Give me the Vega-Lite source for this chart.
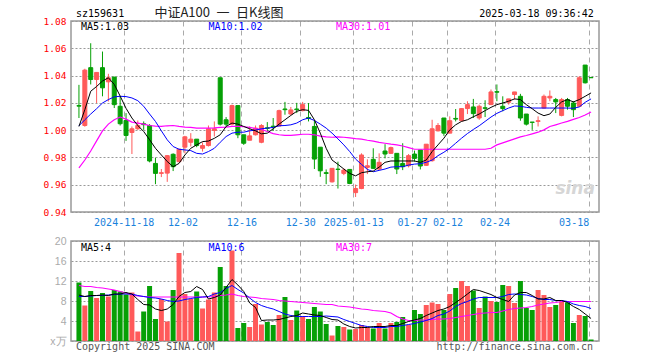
{
  "$schema": "https://vega.github.io/schema/vega-lite/v6.json",
  "background": "white",
  "padding": {"left": 40, "top": 6, "right": 10, "bottom": 6},
  "spacing": 29,
  "bounds": "flush",
  "config": {
    "view": {"stroke": "#999999", "strokeWidth": 1.5},
    "axis": {"labelFont": "DejaVu Sans Mono", "domain": false, "ticks": false, "labelOverlap": false}
  },
  "datasets": {
    "k": [
      {"i":0,"d":"2024-11-06","o":1.0180,"h":1.0332,"l":1.0089,"c":1.0176,"v":11.7,"m5":1.0027,"m10":1.0032,"m30":0.9724,"v5":9.2,"v10":8.9,"v30":11.1},
      {"i":1,"d":"2024-11-07","o":1.0034,"h":1.0450,"l":1.0025,"c":1.0440,"v":7.1,"m5":1.0150,"m10":1.0076,"m30":0.9781,"v5":8.9,"v10":8.9,"v30":10.9},
      {"i":2,"d":"2024-11-08","o":1.0458,"h":1.0637,"l":1.0335,"c":1.0371,"v":10.0,"m5":1.0285,"m10":1.0118,"m30":0.9847,"v5":9.1,"v10":9.0,"v30":10.9},
      {"i":3,"d":"2024-11-11","o":1.0371,"h":1.0423,"l":1.0199,"c":1.0423,"v":8.6,"m5":1.0320,"m10":1.0157,"m30":0.9921,"v5":9.1,"v10":9.1,"v30":10.7},
      {"i":4,"d":"2024-11-12","o":1.0458,"h":1.0576,"l":1.0248,"c":1.0310,"v":9.6,"m5":1.0360,"m10":1.0199,"m30":0.9995,"v5":9.2,"v10":9.1,"v30":10.6},
      {"i":5,"d":"2024-11-13","o":1.0354,"h":1.0413,"l":1.0210,"c":1.0384,"v":8.9,"m5":1.0384,"m10":1.0224,"m30":1.0044,"v5":9.1,"v10":9.2,"v30":10.4},
      {"i":6,"d":"2024-11-14","o":1.0389,"h":1.0389,"l":1.0162,"c":1.0187,"v":10.2,"m5":1.0335,"m10":1.0244,"m30":1.0076,"v5":9.4,"v10":9.3,"v30":10.2},
      {"i":7,"d":"2024-11-15","o":1.0175,"h":1.0248,"l":1.0034,"c":1.0047,"v":9.9,"m5":1.0250,"m10":1.0248,"m30":1.0096,"v5":9.4,"v10":9.4,"v30":9.9},
      {"i":8,"d":"2024-11-18","o":1.0071,"h":1.0125,"l":0.9921,"c":0.9961,"v":9.3,"m5":1.0160,"m10":1.0246,"m30":1.0081,"v5":9.7,"v10":9.4,"v30":9.6},
      {"i":9,"d":"2024-11-19","o":0.9983,"h":1.0027,"l":0.9825,"c":1.0010,"v":9.7,"m5":1.0089,"m10":1.0236,"m30":1.0059,"v5":9.4,"v10":9.4,"v30":9.2},
      {"i":10,"d":"2024-11-20","o":1.0010,"h":1.0071,"l":1.0002,"c":1.0034,"v":1.9,"m5":1.0034,"m10":1.0216,"m30":1.0052,"v5":8.3,"v10":9.1,"v30":9.0},
      {"i":11,"d":"2024-11-21","o":1.0047,"h":1.0064,"l":1.0002,"c":1.0040,"v":5.9,"m5":0.9990,"m10":1.0175,"m30":1.0044,"v5":7.3,"v10":8.9,"v30":8.9},
      {"i":12,"d":"2024-11-22","o":1.0034,"h":1.0044,"l":0.9764,"c":0.9774,"v":11.0,"m5":0.9930,"m10":1.0118,"m30":1.0034,"v5":7.2,"v10":8.7,"v30":8.8},
      {"i":13,"d":"2024-11-25","o":0.9756,"h":0.9798,"l":0.9604,"c":0.9683,"v":4.4,"m5":0.9867,"m10":1.0064,"m30":1.0030,"v5":6.4,"v10":8.6,"v30":8.8},
      {"i":14,"d":"2024-11-26","o":0.9683,"h":0.9715,"l":0.9656,"c":0.9688,"v":8.4,"m5":0.9818,"m10":0.9995,"m30":1.0027,"v5":6.1,"v10":8.4,"v30":8.8},
      {"i":15,"d":"2024-11-27","o":0.9685,"h":0.9818,"l":0.9621,"c":0.9813,"v":3.9,"m5":0.9770,"m10":0.9929,"m30":1.0032,"v5":6.4,"v10":8.1,"v30":8.8},
      {"i":16,"d":"2024-11-28","o":0.9823,"h":0.9830,"l":0.9700,"c":0.9732,"v":10.2,"m5":0.9732,"m10":0.9880,"m30":1.0034,"v5":7.3,"v10":7.9,"v30":8.8},
      {"i":17,"d":"2024-11-29","o":0.9769,"h":0.9860,"l":0.9764,"c":0.9860,"v":17.6,"m5":0.9756,"m10":0.9860,"m30":1.0027,"v5":8.9,"v10":8.0,"v30":8.8},
      {"i":18,"d":"2024-12-02","o":0.9875,"h":0.9958,"l":0.9830,"c":0.9951,"v":9.4,"m5":0.9818,"m10":0.9855,"m30":1.0022,"v5":9.7,"v10":8.3,"v30":8.8},
      {"i":19,"d":"2024-12-03","o":0.9911,"h":0.9978,"l":0.9880,"c":0.9934,"v":8.4,"m5":0.9867,"m10":0.9850,"m30":1.0020,"v5":9.9,"v10":8.5,"v30":8.8},
      {"i":20,"d":"2024-12-04","o":0.9934,"h":0.9934,"l":0.9875,"c":0.9887,"v":9.9,"m5":0.9892,"m10":0.9830,"m30":1.0015,"v5":10.9,"v10":8.7,"v30":8.8},
      {"i":21,"d":"2024-12-05","o":0.9867,"h":0.9911,"l":0.9843,"c":0.9887,"v":6.5,"m5":0.9916,"m10":0.9825,"m30":1.0015,"v5":10.3,"v10":8.8,"v30":8.8},
      {"i":22,"d":"2024-12-06","o":0.9887,"h":1.0034,"l":0.9880,"c":1.0010,"v":8.3,"m5":0.9920,"m10":0.9843,"m30":1.0015,"v5":8.4,"v10":8.9,"v30":8.8},
      {"i":23,"d":"2024-12-09","o":0.9998,"h":1.0064,"l":0.9953,"c":1.0010,"v":9.7,"m5":0.9940,"m10":0.9867,"m30":1.0017,"v5":8.7,"v10":9.4,"v30":8.9},
      {"i":24,"d":"2024-12-10","o":1.0384,"h":1.0384,"l":1.0034,"c":1.0044,"v":14.8,"m5":0.9966,"m10":0.9911,"m30":1.0020,"v5":9.2,"v10":9.7,"v30":9.1},
      {"i":25,"d":"2024-12-11","o":1.0076,"h":1.0096,"l":1.0027,"c":1.0044,"v":11.0,"m5":1.0027,"m10":0.9953,"m30":1.0022,"v5":10.7,"v10":10.5,"v30":9.2},
      {"i":26,"d":"2024-12-12","o":1.0044,"h":1.0187,"l":1.0034,"c":1.0180,"v":18.1,"m5":1.0052,"m10":0.9978,"m30":1.0027,"v5":12.3,"v10":11.1,"v30":9.4},
      {"i":27,"d":"2024-12-13","o":1.0180,"h":1.0180,"l":0.9941,"c":0.9966,"v":2.6,"m5":1.0044,"m10":0.9985,"m30":1.0027,"v5":11.2,"v10":10.3,"v30":9.1},
      {"i":28,"d":"2024-12-16","o":0.9966,"h":0.9966,"l":0.9892,"c":0.9904,"v":3.6,"m5":1.0027,"m10":0.9985,"m30":1.0025,"v5":9.9,"v10":9.6,"v30":8.9},
      {"i":29,"d":"2024-12-17","o":0.9926,"h":1.0027,"l":0.9926,"c":0.9958,"v":2.8,"m5":1.0010,"m10":0.9995,"m30":1.0020,"v5":7.6,"v10":8.6,"v30":8.8},
      {"i":30,"d":"2024-12-18","o":0.9966,"h":1.0034,"l":0.9961,"c":1.0015,"v":7.4,"m5":0.9995,"m10":1.0000,"m30":1.0012,"v5":6.7,"v10":7.7,"v30":8.7},
      {"i":31,"d":"2024-12-19","o":0.9911,"h":1.0044,"l":0.9904,"c":1.0034,"v":3.3,"m5":0.9973,"m10":1.0010,"m30":1.0005,"v5":4.1,"v10":7.1,"v30":8.5},
      {"i":32,"d":"2024-12-20","o":1.0017,"h":1.0059,"l":0.9990,"c":1.0013,"v":3.8,"m5":0.9978,"m10":1.0015,"m30":0.9990,"v5":4.2,"v10":6.7,"v30":8.4},
      {"i":33,"d":"2024-12-23","o":1.0029,"h":1.0089,"l":0.9995,"c":1.0025,"v":3.2,"m5":1.0010,"m10":1.0020,"m30":0.9975,"v5":4.2,"v10":6.4,"v30":8.3},
      {"i":34,"d":"2024-12-24","o":1.0030,"h":1.0150,"l":1.0030,"c":1.0143,"v":5.2,"m5":1.0044,"m10":1.0032,"m30":0.9966,"v5":4.3,"v10":5.9,"v30":8.1},
      {"i":35,"d":"2024-12-25","o":1.0155,"h":1.0207,"l":1.0113,"c":1.0150,"v":8.8,"m5":1.0076,"m10":1.0034,"m30":0.9961,"v5":4.6,"v10":5.4,"v30":8.0},
      {"i":36,"d":"2024-12-26","o":1.0118,"h":1.0170,"l":1.0113,"c":1.0148,"v":4.2,"m5":1.0108,"m10":1.0039,"m30":0.9961,"v5":4.9,"v10":5.1,"v30":7.9},
      {"i":37,"d":"2024-12-27","o":1.0155,"h":1.0200,"l":1.0125,"c":1.0150,"v":6.1,"m5":1.0138,"m10":1.0052,"m30":0.9966,"v5":5.1,"v10":4.9,"v30":7.8},
      {"i":38,"d":"2024-12-30","o":1.0143,"h":1.0207,"l":1.0138,"c":1.0187,"v":5.0,"m5":1.0150,"m10":1.0076,"m30":0.9970,"v5":5.6,"v10":4.9,"v30":7.7},
      {"i":39,"d":"2024-12-31","o":1.0093,"h":1.0199,"l":1.0064,"c":1.0085,"v":4.4,"m5":1.0145,"m10":1.0089,"m30":0.9970,"v5":5.4,"v10":4.9,"v30":7.6},
      {"i":40,"d":"2025-01-02","o":1.0027,"h":1.0069,"l":0.9715,"c":0.9788,"v":6.8,"m5":1.0076,"m10":1.0071,"m30":0.9966,"v5":5.2,"v10":4.9,"v30":7.5},
      {"i":41,"d":"2025-01-03","o":0.9875,"h":0.9875,"l":0.9658,"c":0.9702,"v":5.9,"m5":0.9978,"m10":1.0044,"m30":0.9956,"v5":5.1,"v10":4.9,"v30":7.4},
      {"i":42,"d":"2025-01-06","o":0.9688,"h":0.9712,"l":0.9604,"c":0.9683,"v":3.4,"m5":0.9867,"m10":1.0015,"m30":0.9951,"v5":4.7,"v10":5.0,"v30":7.3},
      {"i":43,"d":"2025-01-07","o":0.9621,"h":0.9720,"l":0.9616,"c":0.9720,"v":1.1,"m5":0.9781,"m10":0.9978,"m30":0.9948,"v5":4.3,"v10":4.9,"v30":7.3},
      {"i":44,"d":"2025-01-08","o":0.9714,"h":0.9769,"l":0.9572,"c":0.9712,"v":3.0,"m5":0.9749,"m10":0.9936,"m30":0.9951,"v5":4.2,"v10":4.8,"v30":7.0},
      {"i":45,"d":"2025-01-09","o":0.9683,"h":0.9720,"l":0.9670,"c":0.9707,"v":2.8,"m5":0.9715,"m10":0.9892,"m30":0.9948,"v5":3.4,"v10":4.3,"v30":6.9},
      {"i":46,"d":"2025-01-10","o":0.9712,"h":0.9712,"l":0.9604,"c":0.9609,"v":2.3,"m5":0.9683,"m10":0.9843,"m30":0.9943,"v5":2.9,"v10":3.9,"v30":6.8},
      {"i":47,"d":"2025-01-13","o":0.9542,"h":0.9601,"l":0.9510,"c":0.9572,"v":2.4,"m5":0.9665,"m10":0.9788,"m30":0.9938,"v5":2.6,"v10":3.5,"v30":6.6},
      {"i":48,"d":"2025-01-14","o":0.9572,"h":0.9830,"l":0.9567,"c":0.9818,"v":3.2,"m5":0.9688,"m10":0.9749,"m30":0.9934,"v5":2.7,"v10":3.1,"v30":6.4},
      {"i":49,"d":"2025-01-15","o":0.9727,"h":0.9786,"l":0.9678,"c":0.9739,"v":2.7,"m5":0.9695,"m10":0.9712,"m30":0.9926,"v5":2.7,"v10":2.9,"v30":6.3},
      {"i":50,"d":"2025-01-16","o":0.9786,"h":0.9867,"l":0.9715,"c":0.9720,"v":2.5,"m5":0.9700,"m10":0.9695,"m30":0.9919,"v5":2.9,"v10":2.7,"v30":6.1},
      {"i":51,"d":"2025-01-17","o":0.9715,"h":0.9830,"l":0.9707,"c":0.9764,"v":3.6,"m5":0.9729,"m10":0.9705,"m30":0.9911,"v5":2.9,"v10":2.7,"v30":6.0},
      {"i":52,"d":"2025-01-20","o":0.9847,"h":0.9897,"l":0.9793,"c":0.9825,"v":2.5,"m5":0.9764,"m10":0.9715,"m30":0.9904,"v5":2.9,"v10":2.7,"v30":5.9},
      {"i":53,"d":"2025-01-21","o":0.9830,"h":0.9879,"l":0.9825,"c":0.9872,"v":3.6,"m5":0.9774,"m10":0.9729,"m30":0.9897,"v5":3.1,"v10":2.9,"v30":5.6},
      {"i":54,"d":"2025-01-22","o":0.9830,"h":0.9830,"l":0.9678,"c":0.9715,"v":3.8,"m5":0.9774,"m10":0.9732,"m30":0.9892,"v5":3.1,"v10":2.9,"v30":4.9},
      {"i":55,"d":"2025-01-23","o":0.9756,"h":0.9904,"l":0.9707,"c":0.9732,"v":4.8,"m5":0.9774,"m10":0.9732,"m30":0.9884,"v5":3.5,"v10":3.1,"v30":4.4},
      {"i":56,"d":"2025-01-24","o":0.9739,"h":0.9825,"l":0.9727,"c":0.9813,"v":3.2,"m5":0.9774,"m10":0.9744,"m30":0.9872,"v5":3.9,"v10":3.3,"v30":4.1},
      {"i":57,"d":"2025-01-27","o":0.9825,"h":0.9850,"l":0.9769,"c":0.9793,"v":6.2,"m5":0.9774,"m10":0.9751,"m30":0.9860,"v5":4.2,"v10":3.5,"v30":4.1},
      {"i":58,"d":"2025-02-05","o":0.9855,"h":0.9855,"l":0.9712,"c":0.9737,"v":5.4,"m5":0.9764,"m10":0.9754,"m30":0.9860,"v5":4.5,"v10":3.8,"v30":4.2},
      {"i":59,"d":"2025-02-06","o":0.9742,"h":0.9897,"l":0.9737,"c":0.9897,"v":7.2,"m5":0.9781,"m10":0.9764,"m30":0.9860,"v5":5.1,"v10":4.1,"v30":4.2},
      {"i":60,"d":"2025-02-07","o":0.9776,"h":1.0076,"l":0.9769,"c":1.0010,"v":7.7,"m5":0.9843,"m10":0.9781,"m30":0.9860,"v5":5.6,"v10":4.5,"v30":4.3},
      {"i":61,"d":"2025-02-10","o":0.9995,"h":1.0052,"l":0.9990,"c":1.0034,"v":7.4,"m5":0.9892,"m10":0.9813,"m30":0.9860,"v5":6.1,"v10":5.1,"v30":4.4},
      {"i":62,"d":"2025-02-11","o":1.0089,"h":1.0089,"l":0.9958,"c":0.9978,"v":6.2,"m5":0.9941,"m10":0.9838,"m30":0.9860,"v5":6.4,"v10":5.4,"v30":4.4},
      {"i":63,"d":"2025-02-12","o":0.9978,"h":1.0101,"l":0.9978,"c":1.0069,"v":9.4,"m5":1.0002,"m10":0.9867,"m30":0.9860,"v5":6.9,"v10":6.0,"v30":4.5},
      {"i":64,"d":"2025-02-13","o":1.0086,"h":1.0155,"l":1.0064,"c":1.0081,"v":10.6,"m5":1.0039,"m10":0.9904,"m30":0.9860,"v5":7.7,"v10":6.9,"v30":4.7},
      {"i":65,"d":"2025-02-14","o":1.0069,"h":1.0162,"l":1.0064,"c":1.0158,"v":12.0,"m5":1.0064,"m10":0.9941,"m30":0.9860,"v5":8.5,"v10":7.5,"v30":4.9},
      {"i":66,"d":"2025-02-17","o":1.0158,"h":1.0212,"l":1.0118,"c":1.0187,"v":11.0,"m5":1.0076,"m10":0.9975,"m30":0.9860,"v5":9.4,"v10":7.9,"v30":5.1},
      {"i":67,"d":"2025-02-18","o":1.0170,"h":1.0229,"l":1.0089,"c":1.0121,"v":10.1,"m5":1.0098,"m10":1.0005,"m30":0.9860,"v5":10.3,"v10":8.4,"v30":5.3},
      {"i":68,"d":"2025-02-19","o":1.0089,"h":1.0187,"l":1.0076,"c":1.0175,"v":6.6,"m5":1.0118,"m10":1.0032,"m30":0.9860,"v5":10.1,"v10":8.7,"v30":5.5},
      {"i":69,"d":"2025-02-20","o":1.0164,"h":1.0219,"l":1.0096,"c":1.0160,"v":8.9,"m5":1.0143,"m10":1.0064,"m30":0.9860,"v5":9.7,"v10":8.7,"v30":5.6},
      {"i":70,"d":"2025-02-21","o":1.0187,"h":1.0298,"l":1.0187,"c":1.0280,"v":8.0,"m5":1.0167,"m10":1.0096,"m30":0.9867,"v5":9.3,"v10":8.7,"v30":5.7},
      {"i":71,"d":"2025-02-24","o":1.0282,"h":1.0335,"l":1.0212,"c":1.0278,"v":7.8,"m5":1.0187,"m10":1.0123,"m30":0.9892,"v5":8.7,"v10":8.7,"v30":5.7},
      {"i":72,"d":"2025-02-25","o":1.0175,"h":1.0248,"l":1.0138,"c":1.0158,"v":11.2,"m5":1.0199,"m10":1.0143,"m30":0.9907,"v5":8.3,"v10":8.9,"v30":6.0},
      {"i":73,"d":"2025-02-26","o":1.0204,"h":1.0229,"l":1.0187,"c":1.0229,"v":11.0,"m5":1.0212,"m10":1.0162,"m30":0.9921,"v5":7.9,"v10":9.3,"v30":6.3},
      {"i":74,"d":"2025-02-27","o":1.0261,"h":1.0280,"l":1.0224,"c":1.0280,"v":7.6,"m5":1.0229,"m10":1.0177,"m30":0.9936,"v5":9.2,"v10":9.4,"v30":6.5},
      {"i":75,"d":"2025-02-28","o":1.0248,"h":1.0266,"l":1.0069,"c":1.0089,"v":12.0,"m5":1.0224,"m10":1.0175,"m30":0.9951,"v5":9.7,"v10":9.3,"v30":6.6},
      {"i":76,"d":"2025-03-03","o":1.0118,"h":1.0118,"l":1.0034,"c":1.0044,"v":6.6,"m5":1.0187,"m10":1.0167,"m30":0.9961,"v5":9.7,"v10":9.2,"v30":6.7},
      {"i":77,"d":"2025-03-04","o":1.0059,"h":1.0059,"l":1.0002,"c":1.0057,"v":6.2,"m5":1.0157,"m10":1.0162,"m30":0.9973,"v5":9.1,"v10":8.9,"v30":6.9},
      {"i":78,"d":"2025-03-05","o":1.0064,"h":1.0101,"l":1.0027,"c":1.0069,"v":10.2,"m5":1.0125,"m10":1.0162,"m30":0.9985,"v5":8.4,"v10":8.5,"v30":7.2},
      {"i":79,"d":"2025-03-06","o":1.0162,"h":1.0261,"l":1.0158,"c":1.0248,"v":9.2,"m5":1.0106,"m10":1.0162,"m30":1.0002,"v5":8.4,"v10":8.3,"v30":7.4},
      {"i":80,"d":"2025-03-07","o":1.0236,"h":1.0291,"l":1.0212,"c":1.0248,"v":6.8,"m5":1.0118,"m10":1.0162,"m30":1.0027,"v5":8.7,"v10":8.3,"v30":7.6},
      {"i":81,"d":"2025-03-10","o":1.0224,"h":1.0236,"l":1.0125,"c":1.0207,"v":7.2,"m5":1.0167,"m10":1.0162,"m30":1.0039,"v5":8.1,"v10":8.1,"v30":7.7},
      {"i":82,"d":"2025-03-11","o":1.0108,"h":1.0236,"l":1.0101,"c":1.0224,"v":7.8,"m5":1.0207,"m10":1.0162,"m30":1.0052,"v5":8.1,"v10":8.1,"v30":7.9},
      {"i":83,"d":"2025-03-12","o":1.0224,"h":1.0236,"l":1.0150,"c":1.0175,"v":7.7,"m5":1.0224,"m10":1.0162,"m30":1.0064,"v5":7.7,"v10":7.9,"v30":7.9},
      {"i":84,"d":"2025-03-13","o":1.0199,"h":1.0212,"l":1.0096,"c":1.0150,"v":3.6,"m5":1.0207,"m10":1.0160,"m30":1.0079,"v5":6.9,"v10":7.4,"v30":7.9},
      {"i":85,"d":"2025-03-14","o":1.0175,"h":1.0396,"l":1.0170,"c":1.0384,"v":5.2,"m5":1.0224,"m10":1.0170,"m30":1.0093,"v5":6.3,"v10":7.1,"v30":7.9},
      {"i":86,"d":"2025-03-17","o":1.0477,"h":1.0477,"l":1.0342,"c":1.0347,"v":5.0,"m5":1.0248,"m10":1.0204,"m30":1.0111,"v5":5.4,"v10":6.9,"v30":7.9},
      {"i":87,"d":"2025-03-18","o":1.0386,"h":1.0386,"l":1.0384,"c":1.0384,"v":0.3,"m5":1.0273,"m10":1.0229,"m30":1.0133,"v5":4.5,"v10":6.5,"v30":7.9}
    ]
  },
  "vconcat": [
    {
      "width": 528,
      "height": 191,
      "layer": [
        {
          "data": {"name": "k"},
          "mark": {"type": "rule", "strokeWidth": 1},
          "encoding": {
            "x": {"field": "i", "type": "quantitative", "scale": {"domain": [-0.5, 87.5], "nice": false, "zero": false},
              "axis": {"values": [7.6, 17.6, 27.6, 37.6, 46.6, 56.6, 62.6, 70.6, 86.6], "tickCount": 50, "title": null, "grid": true, "gridDash": [5, 4], "gridColor": "#aaaaaa", "gridWidth": 1, "labelColor": "#1a82dc", "labelFontSize": 10, "labelPadding": 5, "labelOverlap": false, "labelFlush": false,
                "labelAlign": {"condition": {"test": "datum.value > 80", "value": "right"}, "value": "center"},
                "labelExpr": "datum.value < 10 ? '2024-11-18' : datum.value < 20 ? '12-02' : datum.value < 30 ? '12-16' : datum.value < 40 ? '12-30' : datum.value < 50 ? '2025-01-13' : datum.value < 60 ? '01-27' : datum.value < 66 ? '02-12' : datum.value < 80 ? '02-24' : '03-18'"}},
            "y": {"field": "l", "type": "quantitative", "scale": {"domain": [0.94, 1.08], "nice": false, "zero": false},
              "axis": {"values": [0.94, 0.96, 0.98, 1.0, 1.02, 1.04, 1.06, 1.08], "tickCount": 50, "format": ".2f", "title": null, "grid": true, "gridDash": [2, 2], "gridColor": "#999999", "gridWidth": 1, "labelColor": "#ff0000", "labelFontSize": 9.5, "labelPadding": 5, "labelFlush": false, "labelOverlap": false, "minExtent": 30, "maxExtent": 30}},
            "y2": {"field": "h"},
            "color": {"condition": {"test": "datum.c >= datum.o", "value": "#ff5a5a"}, "value": "#06a006"}
          }
        },
        {
          "data": {"name": "k"},
          "mark": {"type": "bar", "size": 4, "strokeWidth": 1},
          "encoding": {
            "x": {"field": "i", "type": "quantitative"},
            "y": {"field": "o", "type": "quantitative"},
            "y2": {"field": "c"},
            "fill": {"condition": {"test": "datum.c >= datum.o", "value": "#ff5a5a"}, "value": "#06a006"},
            "stroke": {"condition": {"test": "datum.c >= datum.o", "value": "#ff5a5a"}, "value": "#06a006"}
          }
        },
        {
          "data": {"name": "k"},
          "mark": {"type": "line", "color": "#ff00ff", "strokeWidth": 1.2},
          "encoding": {"x": {"field": "i", "type": "quantitative"}, "y": {"field": "m30", "type": "quantitative"}}
        },
        {
          "data": {"name": "k"},
          "mark": {"type": "line", "color": "#0000ff", "strokeWidth": 1},
          "encoding": {"x": {"field": "i", "type": "quantitative"}, "y": {"field": "m10", "type": "quantitative"}}
        },
        {
          "data": {"name": "k"},
          "mark": {"type": "line", "color": "#000000", "strokeWidth": 1},
          "encoding": {"x": {"field": "i", "type": "quantitative"}, "y": {"field": "m5", "type": "quantitative"}}
        },
        {
          "data": {"values": [{"t": "sina"}]},
          "mark": {"type": "text", "align": "center", "baseline": "middle", "font": "DejaVu Sans", "fontSize": 17, "fontStyle": "italic", "fontWeight": "bold", "color": "#d6d6d6"},
          "encoding": {"x": {"datum": 84.3}, "y": {"datum": 0.9565}, "text": {"field": "t"}}
        },
        {
          "data": {"values": [{"t": "sz159631"}]},
          "mark": {"type": "text", "align": "left", "baseline": "middle", "font": "DejaVu Sans Mono", "fontSize": 10, "color": "#000000"},
          "encoding": {"x": {"datum": -0.5}, "y": {"datum": 1.0849}, "text": {"field": "t"}}
        },
        {
          "data": {"values": [{"t": "中证A100\u2002一\u2002日K线图"}]},
          "mark": {"type": "text", "align": "left", "baseline": "middle", "font": "Noto Sans CJK SC", "fontSize": 13, "color": "#222222"},
          "encoding": {"x": {"datum": 12.83}, "y": {"datum": 1.0856}, "text": {"field": "t"}}
        },
        {
          "data": {"values": [{"t": "2025-03-18 09:36:42"}]},
          "mark": {"type": "text", "align": "right", "baseline": "middle", "font": "DejaVu Sans Mono", "fontSize": 10, "color": "#000000"},
          "encoding": {"x": {"datum": 87.45}, "y": {"datum": 1.0849}, "text": {"field": "t"}}
        },
        {
          "data": {"values": [{"t": "MA5:1.03"}]},
          "mark": {"type": "text", "align": "left", "baseline": "middle", "font": "DejaVu Sans Mono", "fontSize": 10, "color": "#000000"},
          "encoding": {"x": {"datum": 0.33}, "y": {"datum": 1.0756}, "text": {"field": "t"}}
        },
        {
          "data": {"values": [{"t": "MA10:1.02"}]},
          "mark": {"type": "text", "align": "left", "baseline": "middle", "font": "DejaVu Sans Mono", "fontSize": 10, "color": "#0000ff"},
          "encoding": {"x": {"datum": 22}, "y": {"datum": 1.0756}, "text": {"field": "t"}}
        },
        {
          "data": {"values": [{"t": "MA30:1.01"}]},
          "mark": {"type": "text", "align": "left", "baseline": "middle", "font": "DejaVu Sans Mono", "fontSize": 10, "color": "#ff00ff"},
          "encoding": {"x": {"datum": 43.67}, "y": {"datum": 1.0756}, "text": {"field": "t"}}
        }
      ]
    },
    {
      "width": 528,
      "height": 100,
      "layer": [
        {
          "data": {"name": "k"},
          "mark": {"type": "bar", "size": 5},
          "encoding": {
            "x": {"field": "i", "type": "quantitative", "scale": {"domain": [-0.5, 87.5], "nice": false, "zero": false},
              "axis": {"values": [7.6, 17.6, 27.6, 37.6, 46.6, 56.6, 62.6, 70.6, 86.6], "tickCount": 50, "title": null, "labels": false, "grid": true, "gridDash": [5, 4], "gridColor": "#aaaaaa", "gridWidth": 1}},
            "y": {"field": "v", "type": "quantitative", "scale": {"domain": [0, 20], "nice": false},
              "axis": {"values": [0, 4, 8, 12, 16, 20], "tickCount": 50, "format": "d", "title": null, "grid": true, "gridDash": [2, 2], "gridColor": "#999999", "gridWidth": 1, "labelColor": "#aaaaaa", "labelFont": "Liberation Sans", "labelFontSize": 10.5, "labelPadding": 5, "labelFlush": false, "labelOverlap": false, "minExtent": 30, "maxExtent": 30,
                "labelExpr": "datum.value == 0 ? 'x万' : datum.label"}},
            "fill": {"condition": {"test": "datum.c >= datum.o", "value": "#ff5a5a"}, "value": "#06a006"}
          }
        },
        {
          "data": {"name": "k"},
          "mark": {"type": "line", "color": "#ff00ff", "strokeWidth": 1.2},
          "encoding": {"x": {"field": "i", "type": "quantitative"}, "y": {"field": "v30", "type": "quantitative"}}
        },
        {
          "data": {"name": "k"},
          "mark": {"type": "line", "color": "#0000ff", "strokeWidth": 1},
          "encoding": {"x": {"field": "i", "type": "quantitative"}, "y": {"field": "v10", "type": "quantitative"}}
        },
        {
          "data": {"name": "k"},
          "mark": {"type": "line", "color": "#000000", "strokeWidth": 1},
          "encoding": {"x": {"field": "i", "type": "quantitative"}, "y": {"field": "v5", "type": "quantitative"}}
        },
        {
          "data": {"values": [{"t": "MA5:4"}]},
          "mark": {"type": "text", "align": "left", "baseline": "middle", "font": "DejaVu Sans Mono", "fontSize": 10, "color": "#000000"},
          "encoding": {"x": {"datum": 0.33}, "y": {"datum": 18.66}, "text": {"field": "t"}}
        },
        {
          "data": {"values": [{"t": "MA10:6"}]},
          "mark": {"type": "text", "align": "left", "baseline": "middle", "font": "DejaVu Sans Mono", "fontSize": 10, "color": "#0000ff"},
          "encoding": {"x": {"datum": 22}, "y": {"datum": 18.66}, "text": {"field": "t"}}
        },
        {
          "data": {"values": [{"t": "MA30:7"}]},
          "mark": {"type": "text", "align": "left", "baseline": "middle", "font": "DejaVu Sans Mono", "fontSize": 10, "color": "#ff00ff"},
          "encoding": {"x": {"datum": 43.67}, "y": {"datum": 18.66}, "text": {"field": "t"}}
        },
        {
          "data": {"values": [{"t": "Copyright 2025 SINA.COM"}]},
          "mark": {"type": "text", "align": "left", "baseline": "middle", "font": "DejaVu Sans Mono", "fontSize": 10, "color": "#555555"},
          "encoding": {"x": {"datum": -0.5}, "y": {"datum": -1.2}, "text": {"field": "t"}}
        },
        {
          "data": {"values": [{"t": "http://finance.sina.com.cn"}]},
          "mark": {"type": "text", "align": "right", "baseline": "middle", "font": "DejaVu Sans Mono", "fontSize": 10, "color": "#555555"},
          "encoding": {"x": {"datum": 87.33}, "y": {"datum": -1.2}, "text": {"field": "t"}}
        }
      ]
    }
  ]
}
